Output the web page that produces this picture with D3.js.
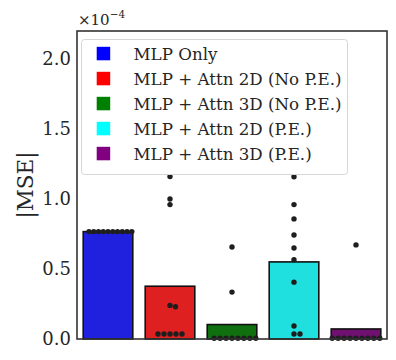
<!DOCTYPE html>
<html>
<head>
<meta charset="utf-8">
<script src="https://cdn.jsdelivr.net/npm/d3@7"></script>
<style>
  body { margin: 0; background: white; }
</style>
</head>
<body>
<div id="chart"></div>
<script>
const categories = [
  "MLP Only",
  "MLP + Attn 2D (No P.E.)",
  "MLP + Attn 3D (No P.E.)",
  "MLP + Attn 2D (P.E.)",
  "MLP + Attn 3D (P.E.)"
];
const legendColors = ["blue", "red", "green", "cyan", "purple"];
const barColors = ["#2020df", "#df2020", "#107010", "#20dfdf", "#701070"];
// per-run |MSE| values, in units of 1e-4
const runsMlp = [0.767, 0.767, 0.767, 0.767, 0.767, 0.767, 0.767, 0.767, 0.767, 0.767];
const runsAttn2dNoPe = [1.16, 1.0, 0.96, 0.24, 0.23, 0.036, 0.036, 0.036, 0.036, 0.036];
const runsAttn3dNoPe = [0.657, 0.335, 0.005, 0.005, 0.005, 0.005, 0.005, 0.005, 0.005, 0.005];
const runsAttn2dPe = [1.159, 0.96, 0.858, 0.743, 0.65, 0.566, 0.406, 0.093, 0.036, 0.036];
const runsAttn3dPe = [0.672, 0.005, 0.005, 0.005, 0.005, 0.005, 0.005, 0.005, 0.005, 0.005];
const runs = [runsMlp, runsAttn2dNoPe, runsAttn3dNoPe, runsAttn2dPe, runsAttn3dPe];
const yTicks = [0, 0.5, 1.0, 1.5, 2.0];

const width = 396;
const height = 360;
const margin = { top: 31, right: 9, bottom: 21, left: 77 };
const serif = `"DejaVu Serif"`;
const textColor = "#262626";

const x = d3
  .scaleBand()
  .domain(categories)
  .range([margin.left, width - margin.right])
  .paddingInner(0.2)
  .paddingOuter(0.1);

const y = d3
  .scaleLinear()
  .domain([0, 2.2])
  .range([height - margin.bottom, margin.top]);

const svg = d3
  .select("#chart")
  .append("svg")
  .attr("width", width)
  .attr("height", height)
  .style("font-family", serif);

// bars at the mean of the runs
svg
  .append("g")
  .selectAll("rect")
  .data(categories)
  .join("rect")
  .attr("x", (d) => x(d))
  .attr("width", x.bandwidth())
  .attr("y", (d, i) => y(d3.mean(runs[i])))
  .attr("height", (d, i) => y(0) - y(d3.mean(runs[i])))
  .attr("fill", (d, i) => barColors[i])
  .attr("stroke", "#111")
  .attr("stroke-width", 1.6);

// simple beeswarm
const r = 2.7;
const gap = 5.6;
function swarm(values, cx) {
  const placed = [];
  values
    .map((v) => ({ v, py: y(v) }))
    .sort((a, b) => a.py - b.py)
    .forEach((p) => {
      for (let k = 0; k < 400; k++) {
        const off = k === 0 ? 0 : Math.ceil(k / 2) * (k % 2 ? 1 : -1) * 0.5;
        const px = cx + off;
        if (placed.every((q) => Math.hypot(q.px - px, q.py - p.py) >= gap - 0.01)) {
          placed.push({ px, py: p.py });
          break;
        }
      }
    });
  return placed;
}

const dots = svg.append("g");
categories.forEach((c, i) => {
  const cx = x(c) + x.bandwidth() / 2;
  const half = x.bandwidth() / 2 - 1;
  const pts = swarm(runs[i], cx);
  const ext = d3.max(pts, (p) => Math.abs(p.px - cx));
  const k = ext > half ? half / ext : 1;
  dots
    .append("g")
    .selectAll("circle")
    .data(pts)
    .join("circle")
    .attr("cx", (p) => cx + (p.px - cx) * k)
    .attr("cy", (p) => p.py)
    .attr("r", r)
    .attr("fill", "#1e1e1e");
});

// y tick labels
svg
  .append("g")
  .selectAll("text")
  .data(yTicks)
  .join("text")
  .attr("x", margin.left - 6)
  .attr("y", (d) => y(d))
  .attr("dy", "0.36em")
  .attr("text-anchor", "end")
  .attr("font-size", 18)
  .attr("fill", textColor)
  .style("font-family", serif)
  .text((d) => d.toFixed(1));

// offset label (x10^-4)
const offset = svg
  .append("text")
  .attr("x", margin.left + 1)
  .attr("y", margin.top - 6)
  .attr("font-size", 15)
  .attr("fill", textColor)
  .style("font-family", serif);
offset.append("tspan").text("×10");
offset.append("tspan").attr("dy", -7).attr("font-size", 10.5).text("−4");

svg
  .append("text")
  .attr("transform", `translate(33,${(margin.top + height - margin.bottom) / 2}) rotate(-90)`)
  .attr("text-anchor", "middle")
  .attr("font-size", 21.5)
  .attr("fill", textColor)
  .style("font-family", serif)
  .text("|MSE|");

// frame
svg
  .append("rect")
  .attr("x", margin.left)
  .attr("y", margin.top)
  .attr("width", width - margin.left - margin.right)
  .attr("height", height - margin.top - margin.bottom)
  .attr("fill", "none")
  .attr("stroke", "#333")
  .attr("stroke-width", 1.6);

// legend
const legend = svg.append("g").attr("transform", "translate(81,39)");
legend
  .append("rect")
  .attr("x", 0.5)
  .attr("y", 0.5)
  .attr("width", 266)
  .attr("height", 135)
  .attr("rx", 3)
  .attr("fill", "white")
  .attr("fill-opacity", 0.8)
  .attr("stroke", "#d6d6d6");
const rows = legend
  .selectAll("g")
  .data(categories)
  .join("g")
  .attr("transform", (d, i) => `translate(0,${14.5 + i * 25})`);
rows
  .append("rect")
  .attr("x", 15.7)
  .attr("y", -6.7)
  .attr("width", 13.5)
  .attr("height", 13.5)
  .attr("fill", (d, i) => legendColors[i]);
rows
  .append("text")
  .attr("x", 52.5)
  .attr("dy", "0.36em")
  .attr("font-size", 16.7)
  .attr("fill", textColor)
  .style("font-family", serif)
  .text((d) => d);
</script>
</body>
</html>
